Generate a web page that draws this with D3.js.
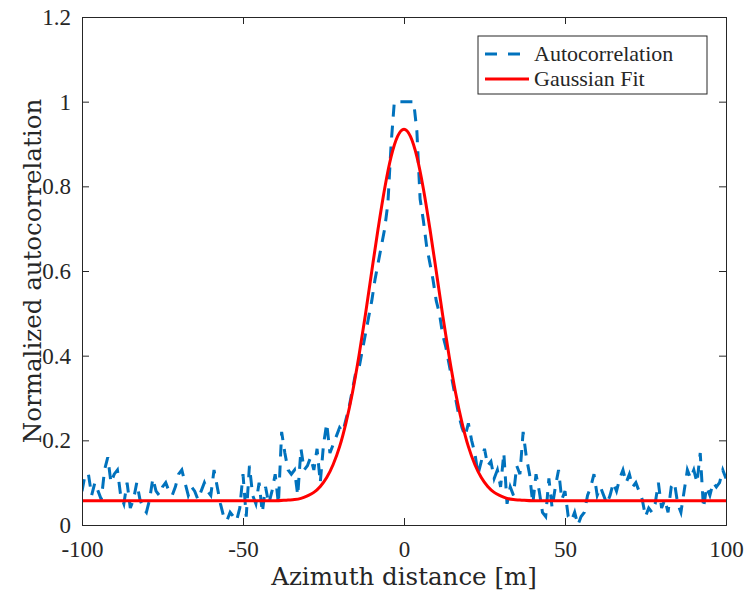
<!DOCTYPE html>
<html>
<head>
<meta charset="utf-8">
<script src="https://cdn.jsdelivr.net/npm/d3@7"></script>
<style>
  body { margin: 0; background: #fff; }
  text { font-family: "Liberation Serif", "DejaVu Serif", serif; fill: #262626; }
  .label { font-family: "DejaVu Serif", "Liberation Serif", serif; }
</style>
</head>
<body>
<svg id="chart" width="747" height="594"></svg>
<script>
// distance samples, 1 m apart
const distance = d3.range(-100, 101, 1);

// autocorrelation (one value per metre)
const autocorr = [
  // -100 .. -76
  0.08, 0.12, 0.12, 0.07, 0.10, 0.08, 0.06, 0.13, 0.16, 0.10, 0.12, 0.13, 0.07, 0.05, 0.10, 0.04, 0.06, 0.10, 0.06, 0.04, 0.03, 0.06, 0.11, 0.08, 0.07,
  // -75 .. -51
  0.09, 0.10, 0.08, 0.07, 0.09, 0.12, 0.13, 0.10, 0.07, 0.09, 0.08, 0.06, 0.08, 0.10, 0.08, 0.07, 0.13, 0.09, 0.05, 0.02, 0.01, 0.03, 0.02, 0.01, 0.04,
  // -50 .. -21
  0.12, 0.02, 0.14, 0.07, 0.05, 0.10, 0.03, 0.09, 0.05, 0.08, 0.12, 0.05, 0.22, 0.17, 0.13, 0.12, 0.13, 0.07, 0.18, 0.13, 0.14, 0.16, 0.13, 0.18, 0.10, 0.19, 0.24, 0.17, 0.19, 0.21,
  // -20 .. 20
  0.23, 0.22, 0.25, 0.28, 0.32, 0.36, 0.37, 0.41, 0.45, 0.49, 0.53, 0.58, 0.62, 0.66, 0.70, 0.76, 0.90, 1.00, 1.00, 1.00, 1.00,
  1.00, 1.00, 1.00, 0.93, 0.77, 0.72, 0.66, 0.62, 0.58, 0.53, 0.50, 0.45, 0.42, 0.38, 0.34, 0.30, 0.26, 0.23, 0.21, 0.24,
  // 21 .. 45
  0.20, 0.17, 0.12, 0.15, 0.18, 0.14, 0.15, 0.11, 0.13, 0.09, 0.17, 0.05, 0.09, 0.07, 0.14, 0.12, 0.22, 0.16, 0.12, 0.05, 0.12, 0.08, 0.03, 0.02, 0.11,
  // 46 .. 75
  0.04, 0.09, 0.13, 0.06, 0.08, 0.02, 0.01, 0.03, 0.00, 0.02, 0.03, 0.07, 0.09, 0.12, 0.07, 0.09, 0.07, 0.05, 0.07, 0.10, 0.08, 0.11, 0.13, 0.10, 0.12, 0.09, 0.10, 0.08, 0.06, 0.02,
  // 76 .. 100
  0.04, 0.03, 0.05, 0.10, 0.04, 0.06, 0.03, 0.09, 0.10, 0.05, 0.03, 0.08, 0.13, 0.11, 0.13, 0.10, 0.17, 0.04, 0.09, 0.07, 0.10, 0.09, 0.10, 0.13, 0.11
];

// gaussian fit
const fitX = [-100, -40, -36, -34, -32, -30, -28, -26, -24, -22, -20, -18, -16, -14, -12, -10, -8, -6, -4, -2, 0,
  2, 4, 6, 8, 10, 12, 14, 16, 18, 20, 22, 24, 26, 28, 30, 32, 34, 36, 40, 100];
const fitY = [0.057, 0.057, 0.059, 0.060, 0.063, 0.069, 0.077, 0.091, 0.112, 0.143, 0.185, 0.242, 0.313, 0.399, 0.496, 0.600, 0.702, 0.795, 0.870, 0.918, 0.935,
  0.918, 0.870, 0.795, 0.702, 0.600, 0.496, 0.399, 0.313, 0.242, 0.185, 0.143, 0.112, 0.091, 0.077, 0.069, 0.063, 0.060, 0.059, 0.057, 0.057];

const xTicks = [-100, -50, 0, 50, 100];
const yTicks = [0, 0.2, 0.4, 0.6, 0.8, 1, 1.2];
const seriesNames = ["Autocorrelation", "Gaussian Fit"];

const svg = d3.select("#chart");
const margin = { left: 82, right: 21, top: 17, bottom: 69 };
const width = 747 - margin.left - margin.right,
    height = 594 - margin.top - margin.bottom;

const x = d3.scaleLinear().domain([-100, 100]).range([0, width]);
const y = d3.scaleLinear().domain([0, 1.2]).range([height, 0]);

const g = svg.append("g").attr("transform", `translate(${margin.left},${margin.top})`);

g.append("defs").append("clipPath").attr("id", "clip")
  .append("rect").attr("width", width).attr("height", height);

// lines
const plot = g.append("g").attr("clip-path", "url(#clip)");

plot.append("path")
  .datum(distance.map((d, i) => [d, autocorr[i]]))
  .attr("fill", "none")
  .attr("stroke", "#0072BD")
  .attr("stroke-width", 3)
  .attr("stroke-dasharray", "12,9")
  .attr("d", d3.line().x(d => x(d[0])).y(d => y(d[1])));

plot.append("path")
  .datum(fitX.map((d, i) => [d, fitY[i]]))
  .attr("fill", "none")
  .attr("stroke", "#FF0000")
  .attr("stroke-width", 3)
  .attr("d", d3.line().curve(d3.curveMonotoneX).x(d => x(d[0])).y(d => y(d[1])));

// axes, MATLAB style: inward ticks on all four sides
const fmt = d => String(+d.toFixed(1));
const tick = 7;

const xAxis = g.append("g").attr("transform", `translate(0,${height})`)
  .call(d3.axisBottom(x).tickValues(xTicks).tickFormat(fmt).tickSize(-tick).tickPadding(16));
const xTop = g.append("g")
  .call(d3.axisTop(x).tickValues(xTicks).tickFormat("").tickSize(-tick));
const yAxis = g.append("g")
  .call(d3.axisLeft(y).tickValues(yTicks).tickFormat(fmt).tickSize(-tick).tickPadding(11));
const yRight = g.append("g").attr("transform", `translate(${width},0)`)
  .call(d3.axisRight(y).tickValues(yTicks).tickFormat("").tickSize(-tick));

[xAxis, xTop, yAxis, yRight].forEach(a => {
  a.select(".domain").attr("stroke", "#262626").attr("stroke-width", 1);
  a.selectAll(".tick line").attr("stroke", "#262626");
  a.selectAll("text").style("font-size", "23px").attr("fill", "#262626");
});

// axis labels
g.append("text")
  .attr("class", "label")
  .attr("x", width / 2).attr("y", height + 60)
  .attr("text-anchor", "middle")
  .style("font-size", "24.5px")
  .text("Azimuth distance [m]");

g.append("text")
  .attr("class", "label")
  .attr("transform", `translate(-41,${height / 2}) rotate(-90)`)
  .attr("text-anchor", "middle")
  .style("font-size", "24.5px")
  .text("Normalized autocorrelation");

// legend
const lg = svg.append("g").attr("transform", "translate(478,36)");
lg.append("rect").attr("width", 229).attr("height", 58)
  .attr("fill", "#fff").attr("stroke", "#262626").attr("stroke-width", 1);

const legendStyle = [
  { color: "#0072BD", dash: "12,11" },
  { color: "#FF0000", dash: null }
];
seriesNames.forEach((name, i) => {
  const yy = 18 + i * 25;
  lg.append("line")
    .attr("x1", 7).attr("x2", 51).attr("y1", yy).attr("y2", yy)
    .attr("stroke", legendStyle[i].color).attr("stroke-width", 3)
    .attr("stroke-dasharray", legendStyle[i].dash);
  lg.append("text")
    .attr("x", 56).attr("y", yy + 7)
    .style("font-size", "22px")
    .text(name);
});
</script>
</body>
</html>
